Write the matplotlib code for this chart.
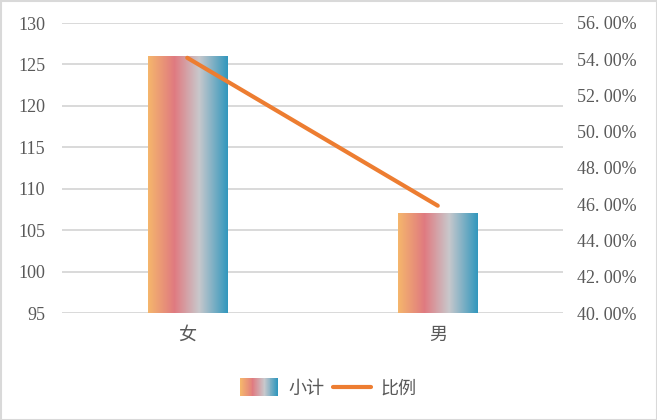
import numpy as np
import matplotlib
matplotlib.use('Agg')
import matplotlib.pyplot as plt
from matplotlib.colors import LinearSegmentedColormap
from matplotlib.patches import Rectangle
from matplotlib.lines import Line2D
from matplotlib.legend_handler import HandlerBase
from matplotlib.ticker import FuncFormatter

plt.rcParams['font.family'] = ['Liberation Serif', 'Noto Sans CJK SC', 'DejaVu Sans']

# dados
categorias = ['女', '男']
subtotal = [126, 107]
proporcao = [54.08, 45.92]

cor_texto = '#595959'
cor_grade = '#D9D9D9'
cor_linha = '#ED7D31'
grad = LinearSegmentedColormap.from_list(
    'grad', [(0.0, '#F5B66C'), (0.33, '#E07A80'), (0.64, '#C8C8CC'), (1.0, '#3197BD')])

fig = plt.figure(figsize=(6.57, 4.2), dpi=100)
ax = fig.add_axes([62 / 657, 107 / 420, 501 / 657, 290 / 420])
ax2 = ax.twinx()

ax.set_xlim(-0.5, len(categorias) - 0.5)
ax.set_ylim(95, 130)
base = ax.get_ylim()[0]

x = np.arange(len(categorias))
largura = 0.316
barras = ax.bar(x, np.array(subtotal) - base, bottom=base, width=largura,
                color='none', zorder=2)
img = np.linspace(0, 1, 256).reshape(1, -1)
for b in barras:
    x0, y0 = b.get_x(), b.get_y()
    w, h = b.get_width(), b.get_height()
    ax.imshow(img, cmap=grad, aspect='auto', extent=[x0, x0 + w, y0, y0 + h], zorder=2)

ax.set_xlim(-0.5, len(categorias) - 0.5)
ax.set_ylim(95, 130)
ax.set_yticks(range(95, 131, 5))
ax.set_xticks(x)
ax.set_xticklabels(categorias)
ax.grid(axis='y', color=cor_grade, linewidth=1.4, zorder=0)
ax.set_axisbelow(True)

ax2.plot(x, proporcao, color=cor_linha, linewidth=3, solid_capstyle='round', zorder=3)
ax2.set_ylim(40, 56)
ax2.set_yticks(range(40, 57, 2))
ax2.yaxis.set_major_formatter(FuncFormatter(lambda v, p: f'{v:.2f}%'.replace('.', '. ')))

for a in (ax, ax2):
    for s in a.spines.values():
        s.set_visible(False)
    a.tick_params(length=0, labelsize=13, colors=cor_texto)
ax.tick_params(axis='x', pad=10)
ax.tick_params(axis='y', pad=12)
ax2.tick_params(axis='y', pad=10)


class HandlerGradiente(HandlerBase):
    def create_artists(self, legend, orig_handle, xdescent, ydescent,
                       width, height, fontsize, trans):
        n = 40
        artistas = []
        for i in range(n):
            r = Rectangle((-xdescent + width * i / n, -ydescent - 2), width / n + 0.3, height + 4,
                          facecolor=grad(i / (n - 1)), edgecolor='none', transform=trans)
            artistas.append(r)
        return artistas


h_barra = Rectangle((0, 0), 1, 1)
h_linha = Line2D([0], [0], color=cor_linha, linewidth=3, solid_capstyle='round')
leg = fig.legend([h_barra, h_linha], ['小计', '比例'],
                 handler_map={h_barra: HandlerGradiente()},
                 loc='center', bbox_to_anchor=(0.5, 31 / 420), ncol=2, frameon=False,
                 fontsize=13, handlelength=2.1, columnspacing=0.5, handletextpad=0.55)
for t in leg.get_texts():
    t.set_color(cor_texto)

fig.patches.append(Rectangle((0.5 / 657, 0.5 / 420), 1 - 1 / 657, 1 - 1 / 420,
                             transform=fig.transFigure, fill=False,
                             edgecolor=cor_grade, linewidth=1.5))

fig.savefig('out.png', dpi=100)
